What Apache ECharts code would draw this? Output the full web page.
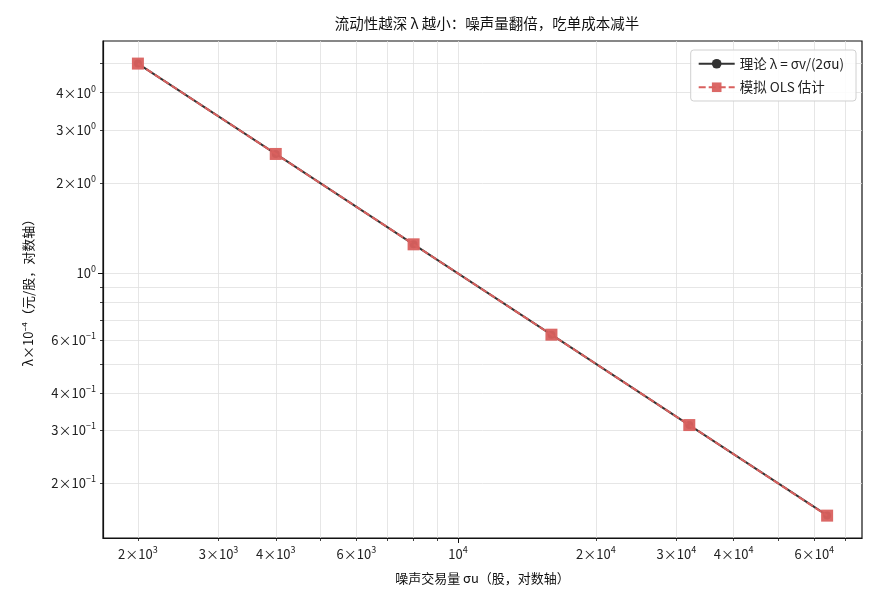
<!DOCTYPE html>
<html>
<head>
<meta charset="utf-8">
<script src="https://cdn.jsdelivr.net/npm/echarts@6/dist/echarts.min.js"></script>
<style>
  html, body { margin: 0; padding: 0; background: #fff; }
  #main { width: 880px; height: 605px; }
</style>
</head>
<body>
<div id="main"></div>
<script>
// 噪声交易量 σu（股）
var noiseVol = [2000, 4000, 8000, 16000, 32000, 64000];
// 理论 λ ×10^-4
var theoryLambda = [5.0, 2.5, 1.25, 0.625, 0.3125, 0.15625];
// 模拟 OLS 估计
var olsLambda = [5.0, 2.5, 1.25, 0.625, 0.3125, 0.156];

var xTickVals = [2000, 3000, 4000, 5000, 6000, 7000, 8000, 9000, 20000, 30000, 40000, 50000, 60000, 70000];
var xMajorVals = [10000];
var xLabelVals = [2000, 3000, 4000, 6000, 10000, 20000, 30000, 40000, 60000];
var yTickVals = [0.2, 0.3, 0.4, 0.5, 0.6, 0.7, 0.8, 0.9, 2, 3, 4, 5];
var yMajorVals = [1];
var yLabelVals = [0.2, 0.3, 0.4, 0.6, 1, 2, 3, 4];

var FONT = '"Noto Sans CJK SC", "Noto Sans", sans-serif';

function sciLabel(v) {
    var e = Math.floor(Math.log10(v) + 1e-9);
    var m = Math.round(v / Math.pow(10, e));
    var es = e < 0 ? '\u2212' + (-e) : String(e);
    if (m === 1) {
        return '{b|10}{s|' + es + '}';
    }
    return '{b|' + m + '\u00d710}{s|' + es + '}';
}

var labelRich = {
    b: { fontSize: 13, color: '#222', fontFamily: FONT, lineHeight: 18 },
    s: { fontSize: 9, color: '#222', fontFamily: FONT, verticalAlign: 'top', lineHeight: 11 }
};

function pairs(xs, ys) {
    return xs.map(function (x, i) { return [x, ys[i]]; });
}

var chart = echarts.init(document.getElementById('main'), null, { renderer: 'canvas' });

var xMin = 1678, xMax = 76270, yMin = 0.1314, yMax = 5.946;

var option = {
    backgroundColor: '#fff',
    animation: false,
    title: {
        text: '流动性越深 λ 越小：噪声量翻倍，吃单成本减半',
        left: 482,
        top: 11,
        textAlign: 'center',
        textStyle: { fontSize: 14.5, fontWeight: 'normal', color: '#111', fontFamily: FONT }
    },
    legend: {
        right: 24,
        top: 50,
        orient: 'vertical',
        itemWidth: 36,
        itemHeight: 12,
        itemGap: 10,
        padding: [7, 12, 7, 7],
        borderColor: '#d0d0d0',
        borderWidth: 1,
        borderRadius: 3,
        backgroundColor: 'rgba(255,255,255,0.85)',
        textStyle: { fontSize: 13.5, color: '#222', fontFamily: FONT },
        data: ['理论 λ = σv/(2σu)', '模拟 OLS 估计']
    },
    grid: {
        left: 103, right: 18, top: 41, bottom: 67,
        show: true,
        borderColor: '#111',
        borderWidth: 1.2,
        containLabel: false
    },
    xAxis: [{
        type: 'log',
        logBase: 10,
        min: xMin,
        max: xMax,
        name: '噪声交易量 σu（股，对数轴）',
        nameLocation: 'middle',
        nameGap: 34,
        nameTextStyle: { fontSize: 13, color: '#111', fontFamily: FONT },
        axisLine: { show: true, lineStyle: { color: '#111', width: 1.2 } },
        axisTick: { show: true, length: 3, lineStyle: { color: '#111', width: 0.8 }, customValues: xTickVals.concat(xMajorVals) },
        axisLabel: { customValues: xLabelVals, formatter: sciLabel, rich: labelRich, margin: 7 },
        splitLine: { show: true, lineStyle: { color: '#e0e0e0', width: 0.8 } }
    }, {
        type: 'log',
        logBase: 10,
        min: xMin,
        max: xMax,
        position: 'bottom',
        axisLine: { show: false },
        axisTick: { show: true, length: 5, lineStyle: { color: '#111', width: 1 }, customValues: xMajorVals },
        axisLabel: { show: false },
        splitLine: { show: false }
    }],
    yAxis: [{
        type: 'log',
        logBase: 10,
        min: yMin,
        max: yMax,
        name: 'λ×10⁻⁴（元/股，对数轴）',
        nameLocation: 'middle',
        nameGap: 68,
        nameTextStyle: { fontSize: 13, color: '#111', fontFamily: FONT },
        axisLine: { show: true, lineStyle: { color: '#111', width: 1.2 } },
        axisTick: { show: true, length: 3, lineStyle: { color: '#111', width: 0.8 }, customValues: yTickVals.concat(yMajorVals) },
        axisLabel: { customValues: yLabelVals, formatter: sciLabel, rich: labelRich, margin: 7 },
        splitLine: { show: true, lineStyle: { color: '#e0e0e0', width: 0.8 } }
    }, {
        type: 'log',
        logBase: 10,
        min: yMin,
        max: yMax,
        position: 'left',
        axisLine: { show: false },
        axisTick: { show: true, length: 5, lineStyle: { color: '#111', width: 1 }, customValues: yMajorVals },
        axisLabel: { show: false },
        splitLine: { show: false }
    }],
    series: [{
        name: '理论 λ = σv/(2σu)',
        type: 'line',
        data: pairs(noiseVol, theoryLambda),
        symbol: 'circle',
        symbolSize: 8,
        color: '#333333',
        lineStyle: { color: '#333333', width: 2 },
        itemStyle: { color: '#333333' },
        z: 2
    }, {
        name: '模拟 OLS 估计',
        type: 'line',
        data: pairs(noiseVol, olsLambda),
        symbol: 'rect',
        symbolSize: 12,
        color: '#d9605e',
        lineStyle: { color: '#d9605e', width: 2, type: [7, 3] },
        itemStyle: { color: '#d9605e', opacity: 0.95 },
        z: 3
    }]
};

chart.setOption(option);
</script>
</body>
</html>
